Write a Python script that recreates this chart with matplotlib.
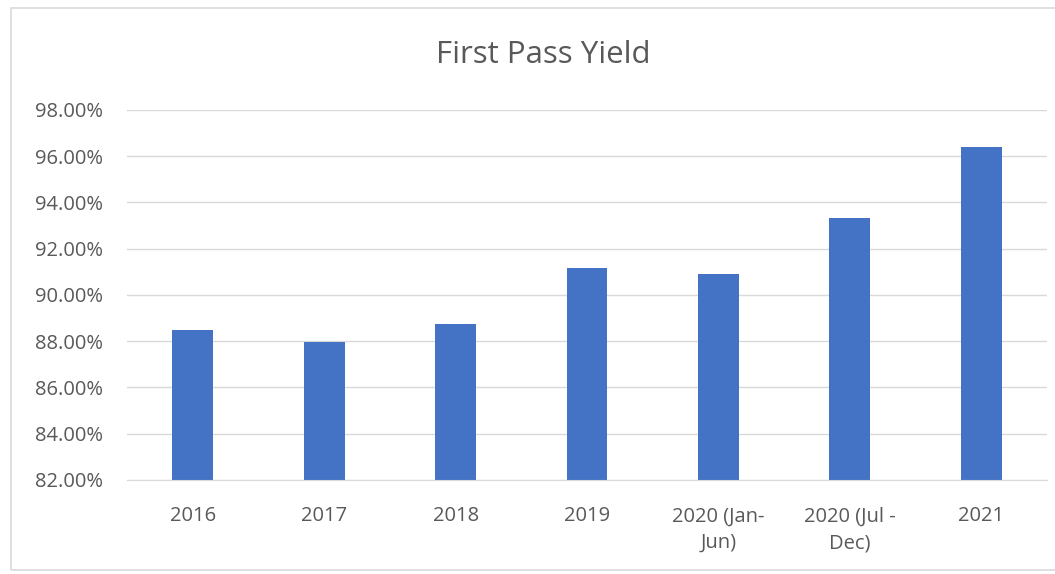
import matplotlib.pyplot as plt
from matplotlib.patches import Rectangle
from matplotlib.ticker import FuncFormatter

# data
categories = ["2016", "2017", "2018", "2019", "2020 (Jan-\nJun)", "2020 (Jul -\nDec)", "2021"]
yield_pct = [88.48, 87.97, 88.75, 91.18, 90.91, 93.33, 96.39]
y_ticks = [82, 84, 86, 88, 90, 92, 94, 96, 98]

plt.rcParams['font.family'] = ['Open Sans', 'DejaVu Sans']
text_grey = '#595959'

fig = plt.figure(figsize=(10.55, 5.74), dpi=100)
ax = fig.add_axes([0.1204, 0.1638, 0.872, 0.6446])

x = range(len(categories))
ax.bar(x, yield_pct, width=0.31, color='#4472C4', zorder=3)

ax.set_xlim(-0.5, len(categories) - 0.5)
ax.set_ylim(82, 98)
ax.set_yticks(y_ticks)
ax.yaxis.set_major_formatter(FuncFormatter(lambda v, p: f"{v:.2f}%"))
ax.set_xticks(list(x))
ax.set_xticklabels(categories, linespacing=1.45)

ax.grid(axis='y', color='#D9D9D9', linewidth=1, zorder=0)
for s in ['top', 'right', 'left']:
    ax.spines[s].set_visible(False)
ax.spines['bottom'].set_color('#D9D9D9')
ax.spines['bottom'].set_zorder(4)
ax.tick_params(axis='both', length=0, colors=text_grey, labelsize=14.5)
ax.tick_params(axis='x', pad=19)
ax.tick_params(axis='y', pad=17)

fig.text(0.515, 0.904, "First Pass Yield", ha='center', va='center',
         fontsize=22.5, color=text_grey)

# chart area border
fig.patches.append(Rectangle((11 / 1055, 4 / 574), 1.0, 562 / 574,
                             transform=fig.transFigure, fill=False,
                             edgecolor='#D9D9D9', linewidth=1.2))

fig.savefig("out.png", dpi=100)
